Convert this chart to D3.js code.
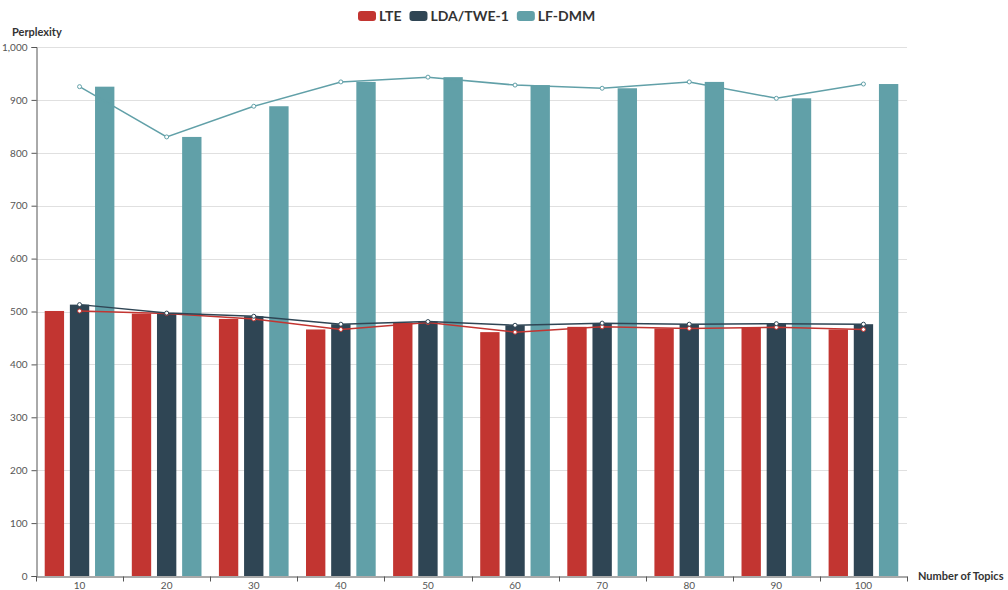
<!DOCTYPE html>
<html>
<head>
<meta charset="utf-8">
<script src="https://cdn.jsdelivr.net/npm/d3@7"></script>
<style>
  body { margin: 0; background: #fff; }
  svg text { font-family: Lato, "Noto Sans", sans-serif; }
</style>
</head>
<body>
<div id="chart"></div>
<script>
// data
const topics = ["10", "20", "30", "40", "50", "60", "70", "80", "90", "100"];
const seriesNames = ["LTE", "LDA/TWE-1", "LF-DMM"];
const lte = [501, 496, 486, 466, 479, 461, 471, 468, 470, 466];
const ldaTwe = [513, 497, 491, 476, 481, 474, 478, 476, 477, 476];
const lfDmm = [925, 830, 888, 934, 943, 928, 922, 934, 903, 930];
const yTicks = [0, 100, 200, 300, 400, 500, 600, 700, 800, 900, 1000];
const colors = ["#c23531", "#2f4554", "#61a0a8"];

const allSeries = [lte, ldaTwe, lfDmm];

const width = 1008, height = 590;
const margin = { top: 47, right: 101, bottom: 14, left: 36 };

const svg = d3.select("#chart").append("svg")
  .attr("width", width)
  .attr("height", height);

const x = d3.scaleBand()
  .domain(topics)
  .range([margin.left, width - margin.right]);

const y = d3.scaleLinear()
  .domain([0, 1000])
  .range([height - margin.bottom, margin.top]);

// grid lines
svg.append("g")
  .selectAll("line")
  .data(yTicks.slice(1))
  .enter().append("line")
  .attr("x1", margin.left)
  .attr("x2", width - margin.right)
  .attr("y1", d => Math.round(y(d)) + 0.5)
  .attr("y2", d => Math.round(y(d)) + 0.5)
  .attr("stroke", "#e0e0e0");

// bars, echarts style spacing (20% category gap, 30% bar gap)
const bw = x.bandwidth() * 0.8 / (3 + 2 * 0.3);
const barX = (i, s) => x(topics[i]) + x.bandwidth() * 0.1 + s * bw * 1.3;

allSeries.forEach((vals, s) => {
  svg.append("g")
    .selectAll("rect")
    .data(vals)
    .enter().append("rect")
    .attr("x", (d, i) => barX(i, s))
    .attr("y", d => y(d))
    .attr("width", bw)
    .attr("height", d => y(0) - y(d))
    .attr("fill", colors[s]);
});

// lines over the bars
const cx = t => x(t) + x.bandwidth() / 2;
allSeries.forEach((vals, s) => {
  const line = d3.line()
    .x((d, i) => cx(topics[i]))
    .y(d => y(d));
  svg.append("path")
    .datum(vals)
    .attr("d", line)
    .attr("fill", "none")
    .attr("stroke", colors[s])
    .attr("stroke-width", 1.5);
  svg.append("g")
    .selectAll("circle")
    .data(vals)
    .enter().append("circle")
    .attr("cx", (d, i) => cx(topics[i]))
    .attr("cy", d => y(d))
    .attr("r", 2)
    .attr("fill", "#fff")
    .attr("stroke", colors[s])
    .attr("stroke-width", 1);
});

// y axis
const yAxis = svg.append("g")
  .attr("transform", "translate(" + (margin.left + 0.5) + ",0)")
  .call(d3.axisLeft(y).tickValues(yTicks).tickSize(5).tickPadding(4)
    .tickFormat(d3.format(",")));
yAxis.select(".domain").attr("stroke", "#555");
yAxis.selectAll(".tick line").attr("stroke", "#555");
yAxis.selectAll("text").attr("fill", "#555").style("font-size", "10px");

// x axis
const xAxis = svg.append("g")
  .attr("transform", "translate(0," + (y(0) + 0.5) + ")")
  .call(d3.axisBottom(x).tickSize(0).tickPadding(5).tickSizeOuter(0));
xAxis.select(".domain").attr("stroke", "#555");
xAxis.selectAll("text").attr("fill", "#555").style("font-size", "10px");
// ticks on category boundaries
xAxis.append("g")
  .selectAll("line")
  .data(topics.map((t, i) => i).concat([topics.length]))
  .enter().append("line")
  .attr("x1", i => Math.round(margin.left + i * x.step()) + 0.5)
  .attr("x2", i => Math.round(margin.left + i * x.step()) + 0.5)
  .attr("y1", 0)
  .attr("y2", 5)
  .attr("stroke", "#555");

// axis names
svg.append("text")
  .attr("x", 12)
  .attr("y", 36)
  .attr("fill", "#333")
  .style("font-size", "11px")
  .style("font-weight", "bold")
  .text("Perplexity");

svg.append("text")
  .attr("x", 918)
  .attr("y", 580)
  .attr("fill", "#333")
  .style("font-size", "11px")
  .style("font-weight", "bold")
  .text("Number of Topics");

// legend
const legend = svg.append("g");
let lx = 358;
seriesNames.forEach((name, i) => {
  legend.append("rect")
    .attr("x", lx)
    .attr("y", 11)
    .attr("width", 18)
    .attr("height", 10)
    .attr("rx", 3)
    .attr("fill", colors[i]);
  const t = legend.append("text")
    .attr("x", lx + 21)
    .attr("y", 21)
    .attr("fill", "#333")
    .style("font-size", "14px")
    .style("font-weight", "bold")
    .text(name);
  lx += 21 + t.node().getComputedTextLength() + 8;
});
</script>
</body>
</html>
